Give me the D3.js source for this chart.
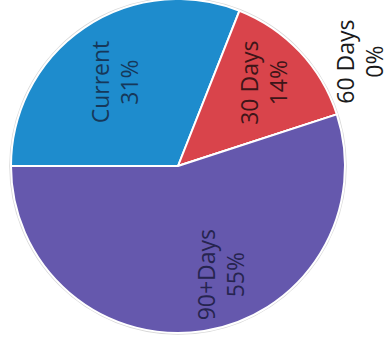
<!DOCTYPE html>
<html>
<head>
<meta charset="utf-8">
<script src="https://cdn.jsdelivr.net/npm/d3@7"></script>
<style>
  html, body { margin: 0; padding: 0; background: #fff; }
  svg { display: block; }
  text { font-family: "Open Sans", "Liberation Sans", sans-serif; }
</style>
</head>
<body>
<svg></svg>
<script>
// data
const categories = ["Current", "30 Days", "60 Days", "90+Days"];
const values = [31, 14, 0, 55];
const colors = ["#1e8ccd", "#d9444b", "#9bbb59", "#6558ad"];
const textColors = ["#16385a", "#3e1518", "#1a1a1a", "#26244f"];

const width = 389;
const height = 343;
const cx = 178, cy = 166, radius = 167;

// label nudges (px, in page space) so labels sit where the original put them
const nudge = {
  "Current": [-1, 7],
  "30 Days": [6, -8],
  "60 Days": [6, 0],
  "90+Days": [26, 0]
};

const svg = d3.select("svg")
  .attr("width", width)
  .attr("height", height);

const g = svg.append("g").attr("transform", `translate(${cx},${cy})`);

const rows = categories.map((c, i) => ({ name: c, value: values[i], color: colors[i], tc: textColors[i] }));

// chart is turned a quarter turn, so the first slice starts at 9 o'clock
const pie = d3.pie()
  .value(d => d.value)
  .sort(null)
  .startAngle(-Math.PI / 2)
  .endAngle(1.5 * Math.PI);

const arcs = pie(rows);

const arc = d3.arc().innerRadius(0).outerRadius(radius);

// soft outline round the pie
g.append("circle")
  .attr("r", radius + 1)
  .attr("fill", "none")
  .attr("stroke", "#d8d8d8")
  .attr("stroke-width", 1.5);

g.selectAll(".slice")
  .data(arcs)
  .enter()
  .append("path")
  .attr("class", "slice")
  .attr("d", arc)
  .attr("fill", d => d.data.color)
  .attr("stroke", "#fff")
  .attr("stroke-width", 2)
  .attr("stroke-linejoin", "round");

// label radius: inside for real slices, outside for the empty one
const labelArc = d3.arc().innerRadius(110).outerRadius(110);
const outsideArc = d3.arc().innerRadius(205).outerRadius(205);

const lineGap = 29;

const label = g.selectAll(".lbl")
  .data(arcs)
  .enter()
  .append("g")
  .attr("class", "lbl")
  .attr("transform", d => {
    let p;
    if (d.data.value === 0) {
      // nudge empty slice label back so it fits
      const a = d.startAngle - 0.22;
      p = outsideArc.centroid({ startAngle: a, endAngle: a });
    } else {
      p = labelArc.centroid(d);
    }
    const n = nudge[d.data.name];
    return `translate(${p[0] + n[0]},${p[1] + n[1]}) rotate(-90)`;
  });

label.append("text")
  .attr("text-anchor", "middle")
  .attr("font-size", 23)
  .attr("fill", d => d.data.tc)
  .attr("y", -lineGap / 2)
  .attr("dy", "0.35em")
  .text(d => d.data.name);

label.append("text")
  .attr("text-anchor", "middle")
  .attr("font-size", 23)
  .attr("fill", d => d.data.tc)
  .attr("y", lineGap / 2)
  .attr("dy", "0.35em")
  .text(d => `${d.data.value}%`);
</script>
</body>
</html>
